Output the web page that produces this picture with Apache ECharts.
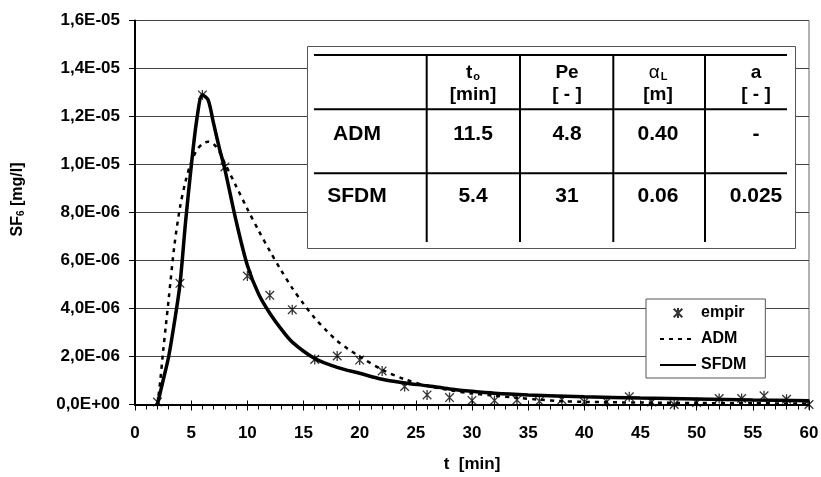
<!DOCTYPE html>
<html>
<head>
<meta charset="utf-8">
<script src="https://cdn.jsdelivr.net/npm/echarts@6/dist/echarts.min.js"></script>
<style>
  html, body { margin: 0; padding: 0; background: #fff; }
  #chart { width: 821px; height: 477px; }
</style>
</head>
<body>
<div id="chart"></div>
<script>
// measured tracer data (t in min, SF6 in mg/l)
var empirT = [2, 4, 6, 8, 10, 12, 14, 16, 18, 20, 22, 24, 26, 28, 30, 32, 34, 36, 38, 40, 42, 44, 46, 48, 50, 52, 54, 56, 58, 60];
var empirC = [0.1e-6, 5.05e-6, 1.29e-5, 9.9e-6, 5.35e-6, 4.55e-6, 3.95e-6, 1.88e-6, 2.02e-6, 1.85e-6, 1.4e-6, 0.75e-6, 0.4e-6, 0.29e-6, 0.17e-6, 0.17e-6, 0.19e-6, 0.14e-6, 0.2e-6, 0.11e-6, 0.11e-6, 0.32e-6, 0.1e-6, 0.0, 0.08e-6, 0.25e-6, 0.25e-6, 0.36e-6, 0.22e-6, 0.0];

// ADM model curve
var admT = [2, 2.25, 2.5, 2.75, 3, 3.5, 4, 4.5, 5, 5.5, 6, 6.5, 7, 7.5, 8, 9, 10, 11, 12, 13, 14, 15, 16, 17, 18, 19, 20, 22, 24, 26, 28, 30, 32, 34, 36, 38, 40, 45, 50, 55, 60];
var admC = [0.0, 1.0e-6, 2.2e-6, 3.3e-6, 4.4e-6, 6.6e-6, 8.2e-6, 9.3e-6, 1.01e-5, 1.06e-5, 1.085e-5, 1.095e-5, 1.085e-5, 1.055e-5, 1.005e-5, 9.1e-6, 8.15e-6, 7.25e-6, 6.4e-6, 5.6e-6, 4.85e-6, 4.2e-6, 3.6e-6, 3.1e-6, 2.65e-6, 2.3e-6, 2.0e-6, 1.45e-6, 1.05e-6, 0.78e-6, 0.6e-6, 0.46e-6, 0.37e-6, 0.28e-6, 0.2e-6, 0.14e-6, 0.11e-6, 0.08e-6, 0.06e-6, 0.05e-6, 0.04e-6];

// SFDM model curve
var sfdmT = [2, 2.5, 3, 3.5, 4, 4.5, 5, 5.5, 6, 6.5, 7, 7.5, 8, 9, 10, 11, 12, 13, 14, 16, 18, 20, 22, 24, 26, 28, 30, 32, 35, 40, 45, 50, 55, 60];
var sfdmC = [0.0, 1.0e-6, 2.0e-6, 3.4e-6, 5.0e-6, 7.6e-6, 9.9e-6, 1.187e-5, 1.29e-5, 1.27e-5, 1.17e-5, 1.07e-5, 9.8e-6, 7.65e-6, 5.8e-6, 4.6e-6, 3.8e-6, 3.15e-6, 2.6e-6, 1.92e-6, 1.55e-6, 1.3e-6, 1.05e-6, 0.9e-6, 0.78e-6, 0.65e-6, 0.55e-6, 0.47e-6, 0.4e-6, 0.32e-6, 0.27e-6, 0.23e-6, 0.19e-6, 0.16e-6];

var yTickLabels = ['0,0E+00', '2,0E-06', '4,0E-06', '6,0E-06', '8,0E-06', '1,0E-05', '1,2E-05', '1,4E-05', '1,6E-05'];

// parameter table
var tableHeadTop = ['{v|t}{s|o}', 'Pe', '{g|α}{s|L}', 'a'];
var tableHeadBottom = ['[min]', '[ - ]', '[m]', '[ - ]'];
var tableRowNames = ['ADM', 'SFDM'];
var tableRowValues = [['11.5', '4.8', '0.40', '-'], ['5.4', '31', '0.06', '0.025']];

function pairs(xs, ys) {
    var out = [];
    for (var i = 0; i < xs.length; i++) {
        out.push([xs[i], ys[i]]);
    }
    return out;
}

var FONT = "'Liberation Sans', Arial, sans-serif";
var STAR = 'path://M0,-5L0,5M-4.3,-4.3L4.3,4.3M-4.3,4.3L4.3,-4.3';

// table graphics
function buildTable() {
    var g = [];
    var colX = [473, 567, 658, 756];
    var vLines = [426.7, 520, 613.3, 705];
    var hLines = [55, 109.3, 173.3];
    g.push({ type: 'rect', shape: { x: 307.5, y: 46.5, width: 488, height: 202 },
             style: { fill: '#fff', stroke: '#555', lineWidth: 1 }, z: 10 });
    for (var i = 0; i < hLines.length; i++) {
        g.push({ type: 'line', shape: { x1: 314, y1: hLines[i], x2: 787, y2: hLines[i] },
                 style: { stroke: '#000', lineWidth: 2 }, z: 11 });
    }
    for (var j = 0; j < vLines.length; j++) {
        g.push({ type: 'line', shape: { x1: vLines[j], y1: 55, x2: vLines[j], y2: 242 },
                 style: { stroke: '#000', lineWidth: 2 }, z: 11 });
    }
    var rich = {
        v: { fontSize: 19, fontWeight: 'bold', fontFamily: FONT, color: '#000' },
        g: { fontSize: 19, fontFamily: FONT, color: '#000' },
        s: { fontSize: 11, fontWeight: 'bold', fontFamily: FONT, color: '#000', verticalAlign: 'bottom', padding: [0, 0, 0, 1] }
    };
    for (var c = 0; c < colX.length; c++) {
        g.push({ type: 'text', x: colX[c], y: 73, z: 12,
                 style: { text: tableHeadTop[c], rich: rich, align: 'center', verticalAlign: 'middle',
                          fontSize: 19, fontWeight: 'bold', fontFamily: FONT, fill: '#000' } });
        g.push({ type: 'text', x: colX[c], y: 95, z: 12,
                 style: { text: tableHeadBottom[c], align: 'center', verticalAlign: 'middle',
                          fontSize: 19, fontWeight: 'bold', fontFamily: FONT, fill: '#000' } });
    }
    var rowY = [134.5, 196.7];
    for (var r = 0; r < tableRowNames.length; r++) {
        g.push({ type: 'text', x: 357, y: rowY[r], z: 12,
                 style: { text: tableRowNames[r], align: 'center', verticalAlign: 'middle',
                          fontSize: 21, fontWeight: 'bold', fontFamily: FONT, fill: '#000' } });
        for (var k = 0; k < colX.length; k++) {
            g.push({ type: 'text', x: colX[k], y: rowY[r], z: 12,
                     style: { text: tableRowValues[r][k], align: 'center', verticalAlign: 'middle',
                              fontSize: 21, fontWeight: 'bold', fontFamily: FONT, fill: '#000' } });
        }
    }
    return g;
}

var myChart = echarts.init(document.getElementById('chart'));
var option = {
    animation: false,
    backgroundColor: '#fff',
    textStyle: { fontFamily: FONT },
    grid: {
        left: 135, top: 20.5, right: 12, bottom: 72.5,
        outerBoundsMode: 'none',
        show: true, borderColor: '#666', borderWidth: 1, backgroundColor: 'transparent'
    },
    legend: {
        orient: 'vertical',
        left: 646, top: 299,
        backgroundColor: '#fff',
        borderColor: '#555', borderWidth: 1, borderRadius: 0,
        padding: [6, 19, 5, 13],
        itemWidth: 36, itemHeight: 10, itemGap: 10,
        textStyle: { fontSize: 16, fontWeight: 'bold', color: '#000', fontFamily: FONT },
        data: [
            { name: 'empir', icon: STAR },
            { name: 'ADM', itemStyle: { opacity: 0 } },
            { name: 'SFDM', itemStyle: { opacity: 0 } }
        ]
    },
    xAxis: [{
        type: 'value', min: 0, max: 60, interval: 5,
        name: 't  [min]', nameLocation: 'middle', nameGap: 51,
        nameTextStyle: { fontSize: 17, fontWeight: 'bold', color: '#000', fontFamily: FONT },
        axisLine: { lineStyle: { color: '#000', width: 2 } },
        axisTick: { show: true, length: 6, lineStyle: { color: '#000', width: 1 } },
        minorTick: { show: true, splitNumber: 5, length: 5, lineStyle: { color: '#000', width: 1 } },
        axisLabel: { fontSize: 17, fontWeight: 'bold', color: '#000', margin: 20, fontFamily: FONT },
        splitLine: { show: false }
    }, {
        // upper halves of the major ticks crossing the axis
        type: 'value', min: 0, max: 60, interval: 5, position: 'bottom',
        axisLine: { show: false },
        axisTick: { show: true, inside: true, length: 4, lineStyle: { color: '#000', width: 1 } },
        axisLabel: { show: false },
        splitLine: { show: false }
    }],
    yAxis: {
        type: 'value', min: 0, max: 1.6e-5, interval: 2e-6,
        name: '{b|SF}{s|6}{b| [mg/l]}', nameLocation: 'middle', nameGap: 109,
        nameTextStyle: {
            padding: [0, 0, 0, 26],
            rich: {
                b: { fontSize: 16, fontWeight: 'bold', color: '#000', fontFamily: FONT },
                s: { fontSize: 10, fontWeight: 'bold', color: '#000', fontFamily: FONT, verticalAlign: 'bottom' }
            }
        },
        axisLine: { show: true, lineStyle: { color: '#000', width: 2 } },
        axisTick: { show: true, length: 6, lineStyle: { color: '#000', width: 1 } },
        axisLabel: {
            fontSize: 17, fontWeight: 'bold', color: '#000', margin: 15, fontFamily: FONT,
            formatter: function (v) { return yTickLabels[Math.round(v / 2e-6)]; }
        },
        splitLine: { show: true, lineStyle: { color: '#444', width: 1 } }
    },
    graphic: buildTable(),
    series: [{
        name: 'empir',
        type: 'scatter',
        data: pairs(empirT, empirC),
        symbol: STAR,
        symbolSize: 10,
        symbolKeepAspect: true,
        itemStyle: { color: 'rgba(0,0,0,0)', borderColor: '#000', borderWidth: 1.3 },
        z: 5
    }, {
        name: 'ADM',
        type: 'line',
        data: pairs(admT, admC),
        smooth: 0.3,
        symbol: 'none',
        lineStyle: { color: '#000', width: 2.5, type: [4, 5] },
        itemStyle: { color: '#000' },
        z: 3
    }, {
        name: 'SFDM',
        type: 'line',
        data: pairs(sfdmT, sfdmC),
        smooth: 0.3,
        symbol: 'none',
        lineStyle: { color: '#000', width: 3.5 },
        itemStyle: { color: '#000' },
        z: 4
    }]
};
myChart.setOption(option);
</script>
</body>
</html>
